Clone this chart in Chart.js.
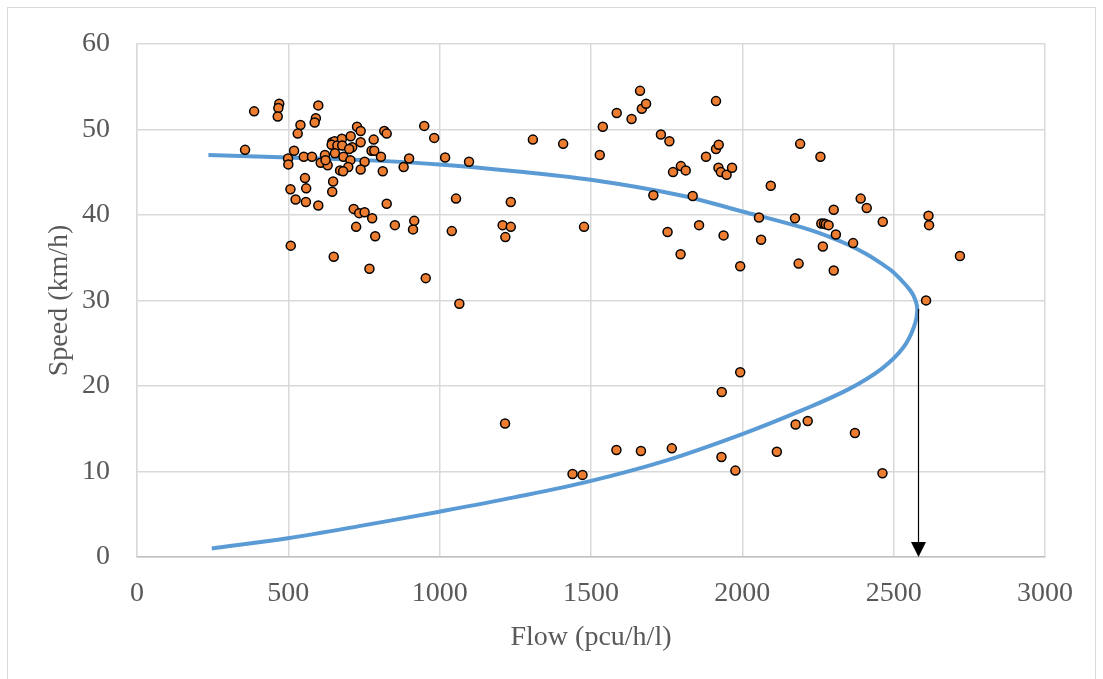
<!DOCTYPE html>
<html>
<head>
<meta charset="utf-8">
<script src="https://cdn.jsdelivr.net/npm/chart.js@4"></script>
<style>
  html, body { margin: 0; padding: 0; background: #fff; }
  #wrap { width: 1103px; height: 679px; position: relative; }
</style>
</head>
<body>
<div id="wrap"><canvas id="speedFlowChart" width="1103" height="679"></canvas></div>
<script>
// observed points
const flow = [
  387, 470, 467, 465, 599, 591, 587, 540, 531, 357, 519, 499, 500, 551, 578, 555, 559, 507, 524, 558,
  599, 508, 650, 768, 954, 648, 645, 607, 621, 630, 623, 645, 653, 643, 662, 677, 678, 654, 682, 706,
  711, 701, 705, 698, 671, 681, 739, 727, 739, 752, 739, 782, 775, 784, 806, 812, 817, 825, 881, 899,
  949, 716, 734, 752, 777, 724, 787, 852, 912, 916, 825,
  982, 1018, 1097, 1054, 1235, 1040, 1208, 1235, 1217, 1477, 1308, 1408, 1529, 1539, 1585, 1065,
  1634, 1662, 1668, 1682, 1913, 1731, 1759, 1880, 1913, 1922, 1797, 1813, 1771, 1921, 1929, 1948, 1966,
  1706, 1836, 2094, 2191, 2055, 2174, 1753, 1857, 1938, 2062, 1796, 1993, 2186,
  2258, 2391, 2411, 2302, 2464, 2261, 2270, 2276, 2285, 2309, 2366, 2266, 2302, 2615, 2617, 2719, 2607,
  1216, 1439, 1472, 1584, 1665, 1767, 1931, 1977, 2114, 2176, 2216, 2372, 2463, 1993, 1932
]
const speed = [
  52.1, 53.0, 52.5, 51.5, 52.8, 51.3, 50.8, 50.5, 49.5, 47.6, 47.5, 46.6, 45.9, 46.8, 46.8, 44.3, 43.1, 43.0, 41.8, 41.5,
  41.1, 36.4, 35.1, 33.7, 32.6, 43.9, 42.7, 46.1, 47.0, 45.8, 46.4, 48.5, 48.6, 48.2, 48.1, 48.9, 48.1, 47.2, 46.8, 49.2,
  47.9, 47.7, 46.4, 45.6, 45.2, 45.1, 48.5, 50.3, 49.8, 46.2, 45.3, 48.8, 47.5, 47.5, 46.8, 45.1, 49.8, 49.5, 45.6, 46.6,
  50.4, 40.7, 40.2, 40.3, 39.6, 38.6, 37.5, 38.8, 38.3, 39.3, 41.3,
  49.0, 46.7, 46.2, 41.9, 41.5, 38.1, 38.8, 38.6, 37.4, 38.6, 48.8, 48.3, 47.0, 50.3, 51.9, 29.6,
  51.2, 54.5, 52.4, 53.0, 53.3, 49.4, 48.6, 46.8, 47.7, 48.2, 45.7, 45.2, 45.0, 45.5, 45.0, 44.7, 45.5,
  42.3, 42.2, 43.4, 48.3, 39.7, 39.6, 38.0, 38.8, 37.6, 37.1, 35.4, 34.0, 34.3,
  46.8, 41.9, 40.8, 40.6, 39.2, 39.0, 39.0, 38.9, 38.8, 37.7, 36.7, 36.3, 33.5, 39.9, 38.8, 35.2, 30.0,
  15.6, 9.7, 9.6, 12.5, 12.4, 12.7, 11.7, 10.1, 12.3, 15.5, 15.9, 14.5, 9.8, 21.6, 19.3
]

// fitted speed-flow curve (low speed branch first)
const curveFlow = [247, 498, 748, 999, 1250, 1500, 1750, 2002, 2200, 2350, 2460, 2530, 2566, 2578, 2565, 2540, 2499, 2460, 2411, 2350, 2290, 2200, 2000, 1794, 1499, 1250, 999, 750, 500, 236]
const curveSpeed = [1.0, 2.2, 3.7, 5.3, 7.0, 8.9, 11.3, 14.4, 17.2, 19.6, 22.0, 24.4, 26.8, 29.0, 30.6, 31.8, 33.3, 34.3, 35.4, 36.5, 37.4, 38.5, 40.4, 42.3, 44.1, 45.1, 45.9, 46.4, 46.7, 47.0]

// capacity arrow
const arrowFlow = 2579
const arrowFrom = 29
const arrowTo = 0

const textColor = "#595959"
const fontFamily = "'Liberation Serif', 'Times New Roman', serif"

const arrowPlugin = {
  id: "capacityArrow",
  afterDatasetsDraw(chart) {
    const { ctx, scales: { x, y } } = chart
    const px = Math.round(x.getPixelForValue(arrowFlow)) + 0.5
    const y1 = y.getPixelForValue(arrowFrom)
    const y2 = y.getPixelForValue(arrowTo)
    ctx.save()
    ctx.strokeStyle = "#000"
    ctx.fillStyle = "#000"
    ctx.lineWidth = 1.2
    ctx.beginPath()
    ctx.moveTo(px, y1)
    ctx.lineTo(px, y2 - 14)
    ctx.stroke()
    ctx.beginPath()
    ctx.moveTo(px - 7.5, y2 - 15)
    ctx.lineTo(px + 7.5, y2 - 15)
    ctx.lineTo(px, y2)
    ctx.closePath()
    ctx.fill()
    ctx.restore()
  }
}

const borderPlugin = {
  id: "outerBorder",
  beforeDraw(chart) {
    const ctx = chart.ctx
    ctx.save()
    ctx.fillStyle = "#fff"
    ctx.fillRect(0, 0, chart.width, chart.height)
    ctx.strokeStyle = "#d9d9d9"
    ctx.lineWidth = 1
    ctx.strokeRect(7.5, 7.5, 1088, 700)
    ctx.restore()
  }
}

const points = flow.map((f, i) => ({ x: f, y: speed[i] }))
const curve = curveFlow.map((f, i) => ({ x: f, y: curveSpeed[i] }))

new Chart(document.getElementById("speedFlowChart"), {
  type: "scatter",
  data: {
    datasets: [{
      label: "Observed",
      data: points,
      order: 0,
      backgroundColor: "#ED7D31",
      borderColor: "#000",
      borderWidth: 1.5,
      pointRadius: 4.5,
      pointHoverRadius: 4.5
    }, {
      label: "Model",
      data: curve,
      order: 1,
      showLine: true,
      borderColor: "#5B9BD5",
      borderWidth: 4,
      pointRadius: 0,
      tension: 0.35,
      fill: false
    }]
  },
  options: {
    responsive: false,
    animation: false,
    events: [],
    layout: { padding: { top: 37, right: 58, left: 0, bottom: 0 } },
    plugins: {
      legend: { display: false },
      tooltip: { enabled: false }
    },
    scales: {
      x: {
        type: "linear",
        min: 0,
        max: 3000,
        ticks: { stepSize: 500, padding: 20, color: textColor, font: { family: fontFamily, size: 28 }, callback: v => String(v) },
        grid: { color: "#d9d9d9", lineWidth: 1.5, drawTicks: false },
        border: { color: "#bfbfbf", width: 1.5 },
        title: { display: true, text: "Flow (pcu/h/l)", color: textColor, font: { family: fontFamily, size: 28 }, padding: { top: 0, bottom: 25 } },
        afterFit(scale) { scale.height = 122 }
      },
      y: {
        type: "linear",
        min: 0,
        max: 60,
        ticks: { stepSize: 10, padding: 27, color: textColor, font: { family: fontFamily, size: 28 }, callback: v => String(v) },
        grid: { color: "#d9d9d9", lineWidth: 1.5, drawTicks: false },
        border: { color: "#d9d9d9", width: 1.5 },
        title: { display: true, text: "Speed (km/h)", color: textColor, font: { family: fontFamily, size: 28 }, padding: { top: 43, bottom: 0 } },
        afterFit(scale) { scale.width = 137 }
      }
    }
  },
  plugins: [borderPlugin, arrowPlugin]
})
</script>
</body>
</html>
